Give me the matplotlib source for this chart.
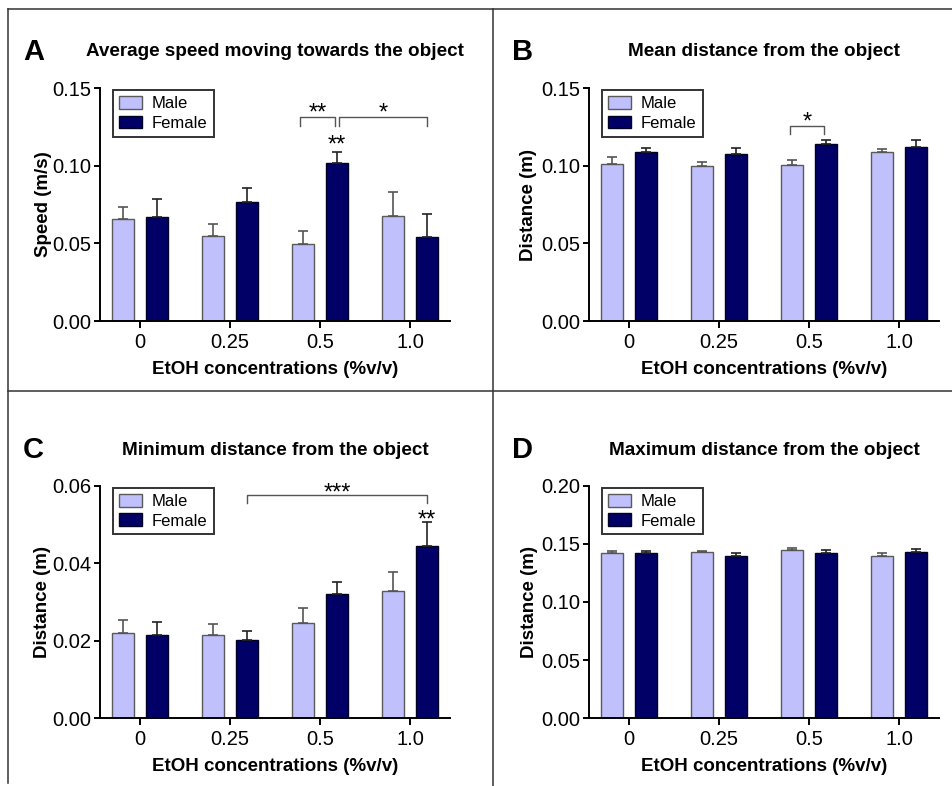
import matplotlib
matplotlib.use('Agg')
import matplotlib.pyplot as plt
import numpy as np
from matplotlib.lines import Line2D

plt.rcParams['font.family'] = ['Liberation Sans', 'DejaVu Sans']

MALE_COLOR = '#c0c0fc'
FEMALE_COLOR = '#000066'

groups = ['0', '0.25', '0.5', '1.0']

# A - average speed moving towards the object (m/s)
speed_male = [0.0657, 0.0549, 0.0498, 0.0676]
speed_male_sem = [0.0079, 0.0078, 0.0084, 0.0157]
speed_female = [0.0670, 0.0768, 0.1015, 0.0541]
speed_female_sem = [0.0116, 0.0086, 0.0071, 0.0148]

# B - mean distance from the object (m)
mean_male = [0.1011, 0.0998, 0.1004, 0.1086]
mean_male_sem = [0.0047, 0.0028, 0.0033, 0.0019]
mean_female = [0.1090, 0.1075, 0.1142, 0.1120]
mean_female_sem = [0.0026, 0.0037, 0.0021, 0.0043]

# C - minimum distance from the object (m)
min_male = [0.0221, 0.0214, 0.0246, 0.0329]
min_male_sem = [0.0033, 0.0029, 0.0038, 0.0048]
min_female = [0.0214, 0.0201, 0.0320, 0.0444]
min_female_sem = [0.0033, 0.0025, 0.0033, 0.0062]

# D - maximum distance from the object (m)
max_male = [0.1420, 0.1428, 0.1451, 0.1400]
max_male_sem = [0.0020, 0.0012, 0.0011, 0.0022]
max_female = [0.1425, 0.1400, 0.1422, 0.1434]
max_female_sem = [0.0018, 0.0020, 0.0023, 0.0020]

OFFSET = 0.19
WIDTH = 0.245


def barX(group, sex):
    # sex: -1 male, +1 female
    return group + sex * OFFSET


def drawPanel(ax, letter, title, ylabel, male, maleSem, female, femaleSem, ymax, ystep, ylabelX):
    x = np.arange(len(groups))
    ax.bar(x - OFFSET, male, WIDTH, color=MALE_COLOR, edgecolor='#5a5a5a', linewidth=1,
           yerr=[np.zeros(len(male)), maleSem], ecolor='#555555',
           error_kw=dict(capsize=3.5, elinewidth=1.2, capthick=1.2), label='Male', zorder=2)
    ax.bar(x + OFFSET, female, WIDTH, color=FEMALE_COLOR, edgecolor='#000022', linewidth=1,
           yerr=[np.zeros(len(female)), femaleSem], ecolor='#222222',
           error_kw=dict(capsize=3.5, elinewidth=1.2, capthick=1.2), label='Female', zorder=2)
    ax.set_xlim(-0.444, 3.444)
    ax.set_ylim(0, ymax)
    ax.set_yticks(np.arange(0, ymax + ystep / 2, ystep))
    ax.yaxis.set_major_formatter(matplotlib.ticker.FormatStrFormatter('%.2f'))
    ax.set_xticks(x)
    ax.set_xticklabels(groups)
    for side in ['top', 'right']:
        ax.spines[side].set_visible(False)
    for side in ['left', 'bottom']:
        ax.spines[side].set_linewidth(1.4)
    ax.tick_params(axis='y', length=4, width=1.4, labelsize=14.5, pad=2)
    ax.tick_params(axis='x', length=5, width=1.4, labelsize=14.5, pad=3.5)
    ax.set_ylabel(ylabel, fontsize=13.5, fontweight='bold')
    ax.set_xlabel('EtOH concentrations (%v/v)', fontsize=13.5, fontweight='bold')
    ax.yaxis.set_label_coords(ylabelX, 0.5)
    ax.xaxis.set_label_coords(0.5, -0.172)
    ax.text(0.5, 1.155, title, transform=ax.transAxes, ha='center', va='center',
            fontsize=13.6, fontweight='bold')
    ax.text(-0.19, 1.155, letter, transform=ax.transAxes, ha='center', va='center',
            fontsize=21, fontweight='bold')
    leg = ax.legend(loc='upper left', bbox_to_anchor=(0.037, 0.99), borderaxespad=0,
                    fontsize=12, frameon=True, fancybox=False, handlelength=1.4,
                    handleheight=0.8, handletextpad=0.6, borderpad=0.35, labelspacing=0.25)
    leg.get_frame().set_edgecolor('black')
    leg.get_frame().set_linewidth(1.4)


def drawBracket(ax, start, end, y, depth, label, lift):
    x0 = barX(*start)
    x1 = barX(*end)
    ax.plot([x0, x0, x1, x1], [y - depth, y, y, y - depth], color='#555555', lw=1, zorder=3)
    ax.annotate(label, ((x0 + x1) / 2, y), xytext=(0, lift), textcoords='offset points',
                ha='center', va='center', fontsize=17)


def drawStars(ax, group, sex, y, label, lift):
    ax.annotate(label, (barX(group, sex), y), xytext=(0, lift), textcoords='offset points',
                ha='center', va='center', fontsize=17)


fig = plt.figure(figsize=(9.53, 7.86), dpi=100)
axA = fig.add_axes([0.1049, 0.5916, 0.3673, 0.2964])
axB = fig.add_axes([0.6180, 0.5916, 0.3673, 0.2964])
axC = fig.add_axes([0.1049, 0.0865, 0.3673, 0.2952])
axD = fig.add_axes([0.6180, 0.0865, 0.3673, 0.2952])

drawPanel(axA, 'A', 'Average speed moving towards the object', 'Speed (m/s)',
          speed_male, speed_male_sem, speed_female, speed_female_sem, 0.15, 0.05, -0.137)
drawPanel(axB, 'B', 'Mean distance from the object', 'Distance (m)',
          mean_male, mean_male_sem, mean_female, mean_female_sem, 0.15, 0.05, -0.148)
drawPanel(axC, 'C', 'Minimum distance from the object', 'Distance (m)',
          min_male, min_male_sem, min_female, min_female_sem, 0.06, 0.02, -0.14)
drawPanel(axD, 'D', 'Maximum distance from the object', 'Distance (m)',
          max_male, max_male_sem, max_female, max_female_sem, 0.20, 0.05, -0.146)

drawBracket(axA, (1.97, -1), (1.98, 1), 0.1312, 0.0055, '**', 2.4)
drawBracket(axA, (2.02, 1), (3.0, 1), 0.1312, 0.0055, '*', 2.4)
drawStars(axA, 2, 1, speed_female[2] + speed_female_sem[2], '**', 4.8)
drawBracket(axB, (1.98, -1), (1.98, 1), 0.1256, 0.0052, '*', 2.4)
drawBracket(axC, (1.0, 1), (3.0, 1), 0.0577, 0.0021, '***', 0.8)
drawStars(axC, 3, 1, min_female[3] + min_female_sem[3], '**', 1.5)

# panel frame lines
frame = dict(color='#333333', linewidth=1.1, transform=fig.transFigure)
fig.add_artist(Line2D([0.0084, 1.0], [0.9885, 0.9885], **frame))
fig.add_artist(Line2D([0.0084, 0.0084], [0.9885, 0.0038], **frame))
fig.add_artist(Line2D([0.5173, 0.5173], [0.9885, 0.0], **frame))
fig.add_artist(Line2D([0.0084, 1.0], [0.5025, 0.5025], **frame))

fig.savefig('out.png', dpi=100, facecolor='white')
